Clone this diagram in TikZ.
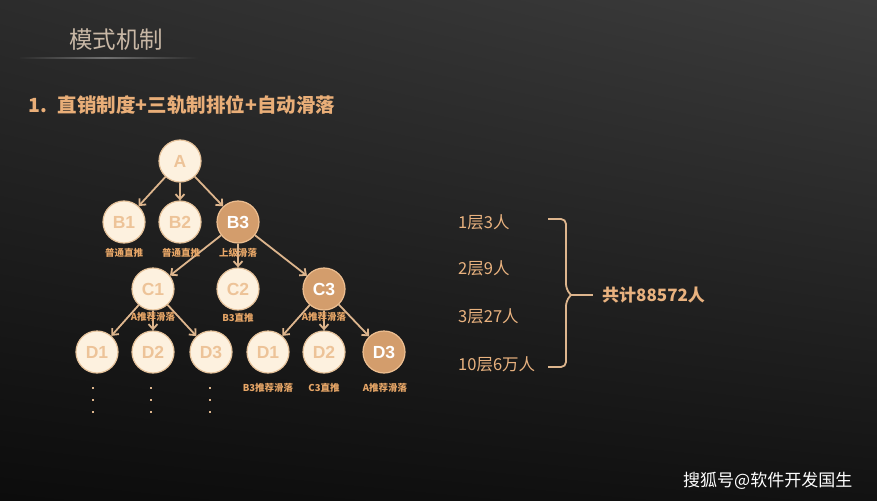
\documentclass[tikz,border=0pt]{standalone}
\usepackage{fontspec}
\setmainfont{Noto Sans CJK SC}
\newfontfamily\latinf{Liberation Sans}
\usetikzlibrary{arrows.meta,shadings}
\definecolor{bgtl}{HTML}{2C2C2C}
\definecolor{bgtr}{HTML}{3C3C3C}
\definecolor{bgbl}{HTML}{0C0C0C}
\definecolor{bgbr}{HTML}{121212}
\definecolor{titlec}{HTML}{C9B8A6}
\definecolor{orangec}{HTML}{E9AE78}
\definecolor{creamf}{HTML}{FDF1DF}
\definecolor{creamd}{HTML}{E6C39C}
\definecolor{lettc}{HTML}{EDC398}
\definecolor{darkf}{HTML}{D39D6C}
\definecolor{darkd}{HTML}{EDBE90}
\definecolor{arrc}{HTML}{DDB58D}
\definecolor{labc}{HTML}{E7A667}
\definecolor{rightc}{HTML}{E9B27F}
\definecolor{linec}{HTML}{707070}
\tikzset{
  x=1pt,y=-1pt,
  lightnode/.style={circle,minimum size=42pt,inner sep=0pt,fill=creamf,draw=creamd,line width=1.2pt,text=lettc,font=\latinf\bfseries\fontsize{17.5}{18}\selectfont},
  darknode/.style={circle,minimum size=42pt,inner sep=0pt,fill=darkf,draw=darkd,line width=1.2pt,text=white,font=\latinf\bfseries\fontsize{17.5}{18}\selectfont},
  conn/.style={draw=arrc,line width=1.8pt,-{Straight Barb[length=5pt,width=9pt]}},
  sublabel/.style={text=labc,font=\bfseries\fontsize{9.5}{10}\selectfont,inner sep=0pt},
  layertext/.style={text=rightc,font=\fontsize{16.5}{17}\selectfont,anchor=west,inner sep=0pt},
  dotmark/.style={fill=arrc,minimum size=2pt,inner sep=0pt}
}
\begin{document}
\begin{tikzpicture}
\useasboundingbox (0,0) rectangle (877,500);
\shade[upper left=bgtl,upper right=bgtr,lower left=bgbl,lower right=bgbr] (0,0) rectangle (877,500);
% title
\node[anchor=west,text=titlec,font=\fontsize{23.5}{24}\selectfont,inner sep=0pt] (title) at (69,40) {模式机制};
\shade[left color=bgtl,right color=linec] (20,57.5) rectangle (105,58.8);
\shade[left color=linec,right color=bgtl] (105,57.5) rectangle (198,58.8);
% heading
\node[anchor=west,text=orangec,font=\bfseries\fontsize{19.5}{20}\selectfont,inner sep=0pt] (head) at (28,105) {1.\hspace{11pt}直销制度+三轨制排位+自动滑落};
% tree nodes
\node[lightnode] (A) at (180,161) {A};
\node[lightnode] (B1) at (124,222) {B1};
\node[lightnode] (B2) at (180,222) {B2};
\node[darknode] (B3) at (238,222) {B3};
\node[lightnode] (C1) at (153,289) {C1};
\node[lightnode] (C2) at (238,289) {C2};
\node[darknode] (C3) at (324,289) {C3};
\node[lightnode] (D1) at (97,352) {D1};
\node[lightnode] (D2) at (153,352) {D2};
\node[lightnode] (D3) at (211,352) {D3};
\node[lightnode] (E1) at (268,352) {D1};
\node[lightnode] (E2) at (324,352) {D2};
\node[darknode] (E3) at (384,352) {D3};
% arrows
\draw[conn] (A) -- (B1);
\draw[conn] (A) -- (B2);
\draw[conn] (A) -- (B3);
\draw[conn] (B3) -- (C1);
\draw[conn] (B3) -- (C2);
\draw[conn] (B3) -- (C3);
\draw[conn] (C1) -- (D1);
\draw[conn] (C1) -- (D2);
\draw[conn] (C1) -- (D3);
\draw[conn] (C3) -- (E1);
\draw[conn] (C3) -- (E2);
\draw[conn] (C3) -- (E3);
% sub labels
\node[sublabel] (lb1) at (124,253) {普通直推};
\node[sublabel] (lb2) at (181,253) {普通直推};
\node[sublabel] (lb3) at (238,253) {上级滑落};
\node[sublabel] (lc1) at (153,317) {A推荐滑落};
\node[sublabel] (lc2) at (238,318) {B3直推};
\node[sublabel] (lc3) at (324,317) {A推荐滑落};
\node[sublabel] (le1) at (268,388) {B3推荐滑落};
\node[sublabel] (le2) at (324,388) {C3直推};
\node[sublabel] (le3) at (385,388) {A推荐滑落};
% dots
\foreach \x/\n in {93/a,151/b,210/c}{
  \foreach \y/\m in {388/1,400/2,412/3}{
    \node[dotmark] (dot\n\m) at (\x,\y) {};
  }
}
% right side
\node[layertext] (L1) at (458,222) {1层3人};
\node[layertext] (L2) at (458,268) {2层9人};
\node[layertext] (L3) at (458,316) {3层27人};
\node[layertext] (L4) at (458,364) {10层6万人};
\draw[arrc,line width=1.8pt,rounded corners=5pt] (548,219) -- (566,219) -- (566,289) -- (571,295);
\draw[arrc,line width=1.8pt,rounded corners=5pt] (548,367) -- (566,367) -- (566,301) -- (571,295);
\draw[arrc,line width=1.8pt] (570,295) -- (593,295);
\node[anchor=west,text=rightc,font=\bfseries\fontsize{17}{17}\selectfont,inner sep=0pt] (total) at (602,295) {共计88572人};
% watermark
\node[anchor=west,text=white,font=\fontsize{17}{17}\selectfont,inner sep=0pt] (wm) at (683,481) {搜狐号@软件开发国生};
\end{tikzpicture}
\end{document}
